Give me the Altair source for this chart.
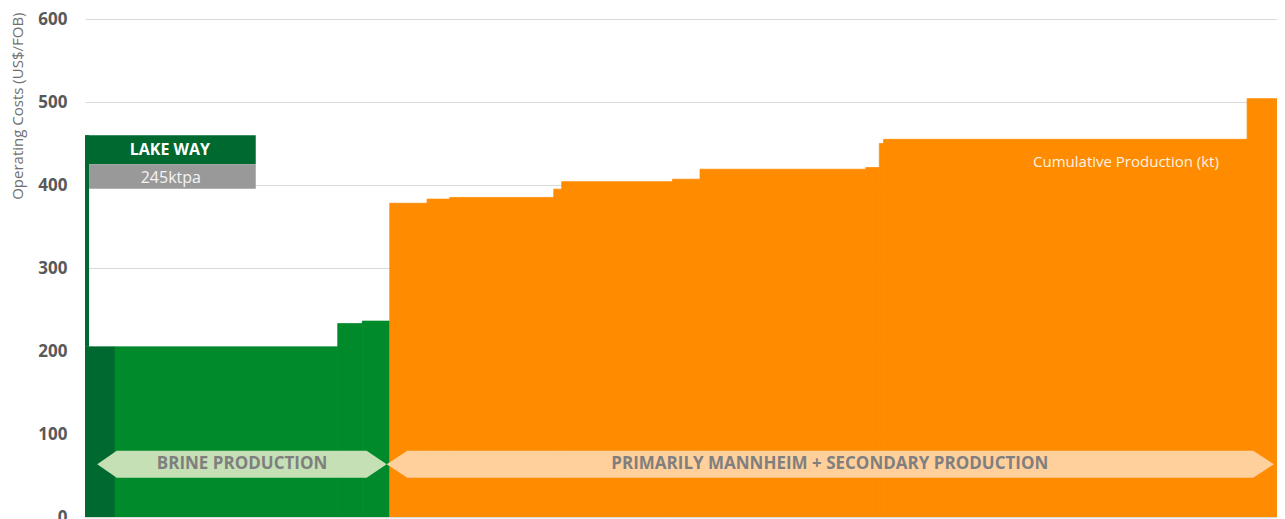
import altair as alt
import pandas as pd

# ---- cost curve data (capacity in kt, operating cost in US$/t FOB) ----
producers = ["Lake Way", "Brine A", "Brine B", "Brine C",
             "M1", "M2", "M3", "M4", "M5", "M6", "M7", "M8", "M9", "M10", "M11", "M12"]
capacity_kt = [245, 1820, 200, 225,
               305, 185, 850, 65, 905, 225, 1355, 110, 35, 2970, 305, 60]
cost_usd = [205, 205, 233, 236,
            378, 383, 385, 395, 404, 407, 419, 421, 450, 455, 504, 514]
group = ["Lake Way", "Brine", "Brine", "Brine"] + ["Mannheim"] * 12

X_MAX = 9739
FONT = "Open Sans"

end = pd.Series(capacity_kt).cumsum()
bars = pd.DataFrame({
    "producer": producers,
    "group": group,
    "start": end - pd.Series(capacity_kt),
    "end": end,
    "cost": cost_usd,
    "base": [0] * len(producers),
})

xs = alt.Scale(domain=[0, X_MAX], nice=False, zero=False)
ys = alt.Scale(domain=[0, 600], nice=False)

x_axis = alt.Axis(labels=False, ticks=False, grid=False, title=None,
                  domainColor="#d9d9d9", domainWidth=1.5)
y_axis = alt.Axis(values=[0, 100, 200, 300, 400, 500, 600], ticks=False,
                  domain=False, grid=True, gridColor="#d9d9d9", gridWidth=1,
                  labelFont=FONT, labelFontSize=17, labelFontWeight="bold",
                  labelColor="#595959", labelPadding=18,
                  title="Operating Costs (US$/FOB)", titleFont=FONT,
                  titleFontSize=15, titleFontWeight="normal",
                  titleColor="#6f6f6f", titleAngle=-90,
                  titleAlign="right", titleBaseline="middle",
                  titleAnchor="end", titleX=-68, titleY=-7)


def X(field):
    return alt.X(field, scale=xs, axis=x_axis, title=None)


def Y(field):
    return alt.Y(field, scale=ys, axis=y_axis, title="Operating Costs (US$/FOB)")


group_scale = alt.Scale(domain=["Lake Way", "Brine", "Mannheim"],
                        range=["#00692f", "#008a2b", "#ff8b00"])

bar_layer = alt.Chart(bars).mark_rect(clip=True, strokeWidth=0.8).encode(
    x=X("start:Q"),
    x2="end:Q",
    y=Y("cost:Q"),
    y2="base:Q",
    color=alt.Color("group:N", legend=None, scale=group_scale),
    stroke=alt.Stroke("group:N", legend=None, scale=group_scale),
)

# ---- Lake Way callout (kt / US$ units) ----
callout = pd.DataFrame({
    "x": [0, 0, 33],
    "x2": [33, 1395, 1395],
    "y": [205, 425, 395.5],
    "y2": [460, 460, 425],
    "fill": ["#00692f", "#00692f", "#999999"],
})
callout_layer = alt.Chart(callout).mark_rect().encode(
    x=X("x:Q"), x2="x2:Q",
    y=Y("y:Q"), y2="y2:Q",
    color=alt.Color("fill:N", scale=None),
)

lake_title = alt.Chart(pd.DataFrame({"x": [694], "y": [442], "t": ["LAKE WAY"]})).mark_text(
    font=FONT, fontSize=16, fontWeight="bold", color="white", baseline="middle"
).encode(x=X("x:Q"), y=Y("y:Q"), text="t:N")

lake_cap = alt.Chart(pd.DataFrame({"x": [701], "y": [409], "t": ["245ktpa"]})).mark_text(
    font=FONT, fontSize=16, color="#f4f4f4", baseline="middle"
).encode(x=X("x:Q"), y=Y("y:Q"), text="t:N")

# ---- production arrows ----
brine_arrow_x = [100, 259, 2301, 2465]
brine_arrow_top = [63.6, 79.9, 79.9, 63.6]
brine_arrow_bot = [63.6, 47.3, 47.3, 63.6]
mann_arrow_x = [2465, 2633, 9545, 9714]
mann_arrow_top = [63.6, 79.9, 79.9, 63.6]
mann_arrow_bot = [63.6, 47.3, 47.3, 63.6]


def arrow(xv, top, bot, colour):
    d = pd.DataFrame({"x": xv, "top": top, "bot": bot})
    return alt.Chart(d).mark_area(color=colour, opacity=1, interpolate="linear").encode(
        x=X("x:Q"),
        y=Y("top:Q"),
        y2="bot:Q",
    )


brine_arrow = arrow(brine_arrow_x, brine_arrow_top, brine_arrow_bot, "#c5e0b4")
mann_arrow = arrow(mann_arrow_x, mann_arrow_top, mann_arrow_bot, "#ffcf9c")

arrow_text = alt.Chart(pd.DataFrame({
    "x": [1283, 6085],
    "y": [63.6, 63.6],
    "t": ["BRINE PRODUCTION", "PRIMARILY MANNHEIM + SECONDARY PRODUCTION"],
})).mark_text(font=FONT, fontSize=17, fontWeight="bold", color="#7f7f7f",
              baseline="middle").encode(x=X("x:Q"), y=Y("y:Q"), text="t:N")

xtitle = alt.Chart(pd.DataFrame({"x": [8505], "y": [427.7], "t": ["Cumulative Production (kt)"]})).mark_text(
    font=FONT, fontSize=15, color="#fff3e4", baseline="middle"
).encode(x=X("x:Q"), y=Y("y:Q"), text="t:N")

chart = alt.layer(
    bar_layer, callout_layer, lake_title, lake_cap,
    brine_arrow, mann_arrow, arrow_text, xtitle
).properties(
    width=1192, height=498,
    padding={"left": 77, "top": 11, "right": 0, "bottom": 2},
    autosize=alt.AutoSizeParams(type="none"),
    background="white",
).configure_view(stroke=None)

chart.save("out.html", embed_options={"renderer": "svg", "actions": False})
